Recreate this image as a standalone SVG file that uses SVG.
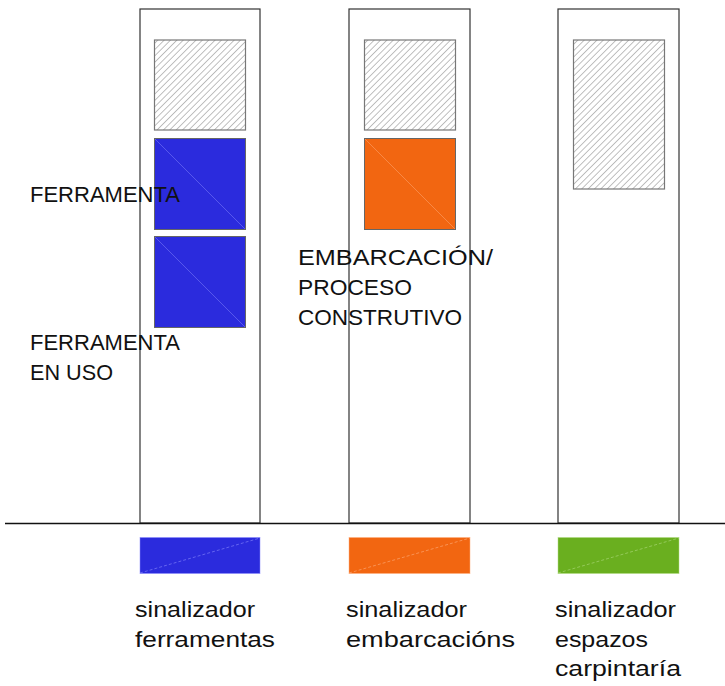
<svg xmlns="http://www.w3.org/2000/svg" width="725" height="686" viewBox="0 0 725 686">
<defs>
<pattern id="hatch" patternUnits="userSpaceOnUse" width="4.5" height="4.5" patternTransform="rotate(45)">
<line x1="0" y1="0" x2="0" y2="4.5" stroke="#808080" stroke-width="1"/>
</pattern>
<style>
.col{fill:#fff;stroke:#333;stroke-width:1.2}
.hat{fill:url(#hatch);stroke:#777;stroke-width:1.2}
.sq{stroke:#666;stroke-width:1}
.diag{stroke-width:0.8;opacity:0.6}
.leg{stroke-width:1;stroke-opacity:0.5}
.ldiag{stroke-width:1;stroke-dasharray:3 2;opacity:0.6}
.t{font-family:"Liberation Sans",Arial,sans-serif;font-size:22px;fill:#111}
</style>
</defs>
<rect width="725" height="686" fill="#fff"/>
<g id="column1">
<rect class="col" x="140" y="9" width="120" height="514"/>
<rect class="hat" x="154.5" y="40" width="91" height="90"/>
<rect class="sq" x="154.5" y="138.5" width="91" height="91" fill="#2b2bdd"/>
<line class="diag" x1="155" y1="139" x2="245" y2="229" stroke="#8a8aff"/>
<rect class="sq" x="154.5" y="236.5" width="91" height="91" fill="#2b2bdd"/>
<line class="diag" x1="155" y1="237" x2="245" y2="327" stroke="#8a8aff"/>
</g>
<g id="column2">
<rect class="col" x="349" y="9" width="121" height="514"/>
<rect class="hat" x="364.5" y="40" width="91" height="90"/>
<rect class="sq" x="364.5" y="138.5" width="91" height="91" fill="#f26611"/>
<line class="diag" x1="365" y1="139" x2="455" y2="229" stroke="#ffb080"/>
</g>
<g id="column3">
<rect class="col" x="558" y="9" width="121" height="514"/>
<rect class="hat" x="573.5" y="40" width="91" height="149"/>
</g>
<g id="connectors">
<line x1="5" y1="523.5" x2="725" y2="523.5" stroke="#111" stroke-width="1.6"/>
</g>
<g id="labels">
<text class="t" x="30" y="202" textLength="150" lengthAdjust="spacingAndGlyphs">FERRAMENTA</text>
<text class="t" x="30" y="350" textLength="150" lengthAdjust="spacingAndGlyphs">FERRAMENTA</text>
<text class="t" x="30" y="380" textLength="83" lengthAdjust="spacingAndGlyphs">EN USO</text>
<text class="t" x="298" y="265" textLength="195" lengthAdjust="spacingAndGlyphs">EMBARCACIÓN/</text>
<text class="t" x="298" y="295" textLength="114" lengthAdjust="spacingAndGlyphs">PROCESO</text>
<text class="t" x="298" y="325" textLength="164" lengthAdjust="spacingAndGlyphs">CONSTRUTIVO</text>
</g>
<g id="legend1">
<rect class="leg" x="140" y="537.5" width="120" height="36" fill="#2b2bdd" stroke="#8a8aff"/>
<line class="ldiag" x1="140" y1="573" x2="260" y2="538" stroke="#8a8aff"/>
<text class="t" x="135" y="617" textLength="120" lengthAdjust="spacingAndGlyphs">sinalizador</text>
<text class="t" x="135" y="647" textLength="140" lengthAdjust="spacingAndGlyphs">ferramentas</text>
</g>
<g id="legend2">
<rect class="leg" x="349" y="537.5" width="121" height="36" fill="#f26611" stroke="#ffb080"/>
<line class="ldiag" x1="349" y1="573" x2="470" y2="538" stroke="#ffb080"/>
<text class="t" x="346" y="617" textLength="121" lengthAdjust="spacingAndGlyphs">sinalizador</text>
<text class="t" x="346" y="647" textLength="169" lengthAdjust="spacingAndGlyphs">embarcacións</text>
</g>
<g id="legend3">
<rect class="leg" x="558" y="537.5" width="121" height="36" fill="#6aaf1f" stroke="#b0dc80"/>
<line class="ldiag" x1="558" y1="573" x2="679" y2="538" stroke="#b0dc80"/>
<text class="t" x="555" y="617" textLength="121" lengthAdjust="spacingAndGlyphs">sinalizador</text>
<text class="t" x="555" y="647" textLength="93" lengthAdjust="spacingAndGlyphs">espazos</text>
<text class="t" x="555" y="676" textLength="126" lengthAdjust="spacingAndGlyphs">carpintaría</text>
</g>
</svg>
